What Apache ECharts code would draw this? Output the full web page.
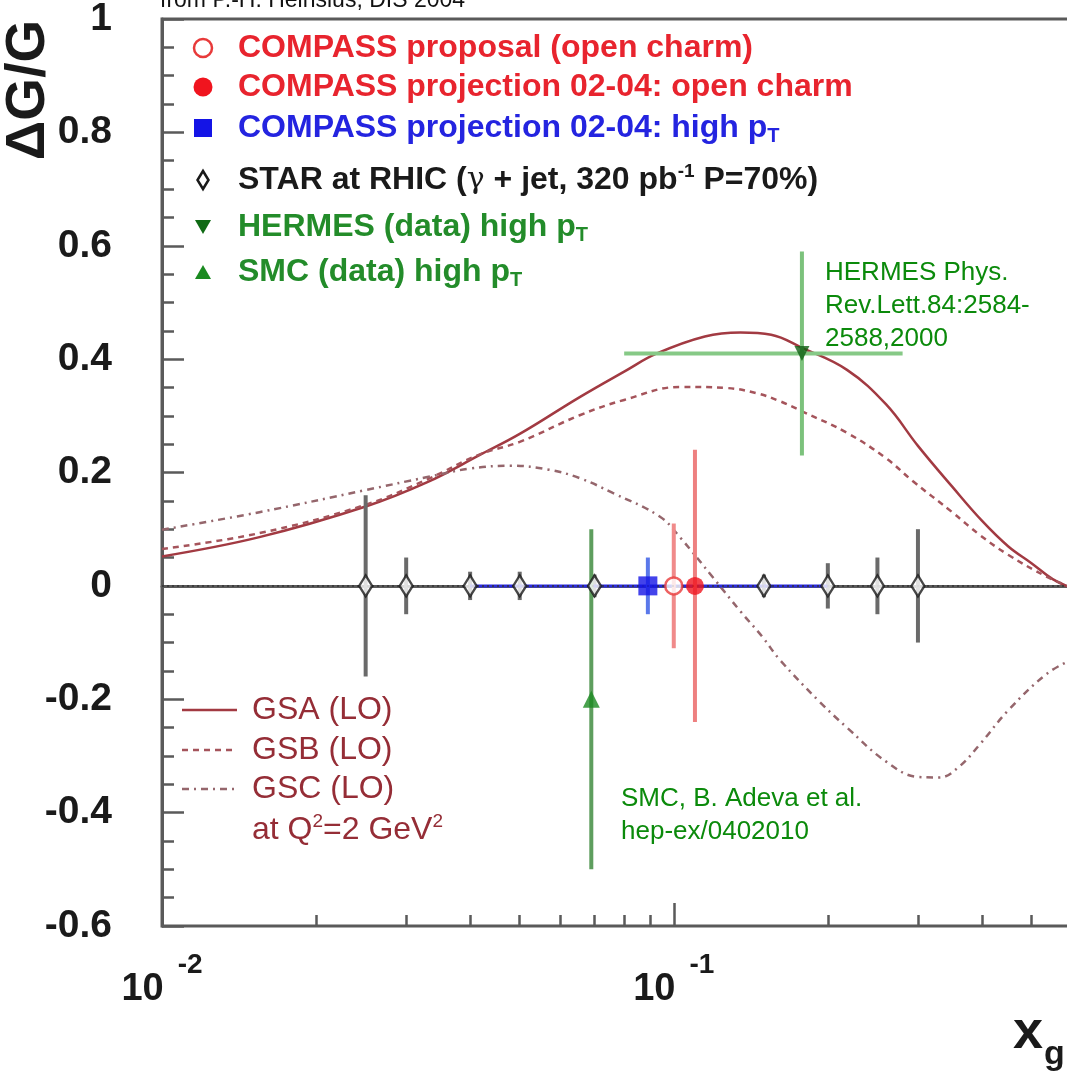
<!DOCTYPE html>
<html lang="en">
  <head>
    <meta charset="utf-8" />
    <title>Delta G / G versus x_g</title>
    <script src="https://cdn.jsdelivr.net/npm/echarts@6/dist/echarts.min.js"></script>
    <style>
      html, body { margin: 0; padding: 0; background: #fff; }
      #chart { width: 1067px; height: 1075px; }
    </style>
  </head>
  <body>
    <div id="chart"></div>
    <script>
      // GS parametrisations (LO, Q^2 = 2 GeV^2)
      var gsaX = [0.01, 0.0155, 0.025, 0.033, 0.0418, 0.05, 0.0655, 0.08, 0.0927, 0.115, 0.135, 0.155, 0.178, 0.218, 0.26, 0.3, 0.35, 0.4, 0.45, 0.5, 0.55, 0.6]
      var gsaY = [0.052, 0.086, 0.14, 0.183, 0.231, 0.268, 0.333, 0.378, 0.41, 0.44, 0.447, 0.443, 0.42, 0.381, 0.32, 0.247, 0.175, 0.115, 0.07, 0.04, 0.012, -0.004]
      var gsbX = [0.01, 0.0155, 0.025, 0.033, 0.0418, 0.05, 0.0655, 0.08, 0.103, 0.127, 0.145, 0.161, 0.178, 0.218, 0.26, 0.293, 0.35, 0.396, 0.45, 0.536, 0.6]
      var gsbY = [0.065, 0.093, 0.143, 0.188, 0.232, 0.254, 0.301, 0.328, 0.351, 0.349, 0.34, 0.326, 0.308, 0.27, 0.225, 0.185, 0.13, 0.09, 0.055, 0.016, -0.003]
      var gscX = [0.01, 0.0155, 0.025, 0.033, 0.04, 0.048, 0.057, 0.0655, 0.076, 0.094, 0.103, 0.119, 0.135, 0.149, 0.161, 0.193, 0.218, 0.26, 0.3, 0.33, 0.36, 0.396, 0.45, 0.536, 0.6]
      var gscY = [0.099, 0.13, 0.169, 0.192, 0.207, 0.212, 0.205, 0.19, 0.164, 0.122, 0.085, 0.016, -0.045, -0.09, -0.13, -0.205, -0.25, -0.31, -0.337, -0.338, -0.32, -0.28, -0.22, -0.155, -0.13]

      // STAR at RHIC projection
      var starX = [0.025, 0.03, 0.04, 0.05, 0.07, 0.15, 0.2, 0.25, 0.3]
      var starY = [0, 0, 0, 0, 0, 0, 0, 0, 0]
      var starErr = [0.16, 0.05, 0.025, 0.025, 0.02, 0.02, 0.04, 0.05, 0.1]

      // single points: [x, y, xLow, xHigh, yErr]
      var compassProposal = [0.1, 0, 0.1, 0.1, 0.11]
      var compassCharm = [0.11, 0, 0.11, 0.11, 0.24]
      var compassHighPt = [0.089, 0, 0.04, 0.2, 0.05]
      var hermes = [0.178, 0.41, 0.08, 0.28, 0.18]
      var smc = [0.069, -0.2, 0.069, 0.069, 0.3]

      var xMajor = [0.01, 0.1]
      var xMinor = [0.02, 0.03, 0.04, 0.05, 0.06, 0.07, 0.08, 0.09, 0.2, 0.3, 0.4, 0.5]

      var FONT = '"Liberation Sans", Arial, Helvetica, sans-serif'
      var AXIS = '#5a5a5a'
      var RED = '#e8242e'
      var BLUE = '#2424e0'
      var GREEN = '#238c2a'
      var CURVE = '#952d36'

      function pairs(xs, ys) {
        return xs.map(function (x, i) { return [x, ys[i]] })
      }

      // rows [x, y, xlo, xhi, ylo, yhi]
      function vRow(p) { return [p[0], p[1], p[0], p[0], p[1] - p[4], p[1] + p[4]] }
      function hRow(p) { return [p[0], p[1], p[2], p[3], p[1], p[1]] }

      function errorBars(name, rows, color, width, z) {
        return {
          type: 'custom',
          name: name,
          z: z,
          silent: true,
          encode: { x: [0, 2, 3], y: [1, 4, 5] },
          data: rows,
          renderItem: function (params, api) {
            var c = api.coord([api.value(0), api.value(1)])
            var lo = api.coord([api.value(2), api.value(4)])
            var hi = api.coord([api.value(3), api.value(5)])
            var kids = []
            if (api.value(4) !== api.value(5)) {
              kids.push({ type: 'line', shape: { x1: c[0], y1: lo[1], x2: c[0], y2: hi[1] }, style: { stroke: color, lineWidth: width } })
            }
            if (api.value(2) !== api.value(3)) {
              kids.push({ type: 'line', shape: { x1: lo[0], y1: c[1], x2: hi[0], y2: c[1] }, style: { stroke: color, lineWidth: width } })
            }
            return { type: 'group', children: kids }
          }
        }
      }

      function marker(name, pts, symbol, size, itemStyle, rotate) {
        return {
          type: 'scatter', name: name, z: 8, silent: true,
          symbol: symbol, symbolSize: size, symbolRotate: rotate || 0,
          itemStyle: itemStyle,
          data: pts
        }
      }

      // extra log axes that only carry tick marks
      function tickAxis(values, len) {
        return {
          type: 'log', logBase: 10, min: 0.01, max: 0.6, position: 'bottom',
          axisLine: { show: false },
          axisTick: { show: true, inside: true, length: len, customValues: values, lineStyle: { color: AXIS, width: 2.5 } },
          axisLabel: { show: false },
          splitLine: { show: false }
        }
      }

      var starRows = starX.map(function (x, i) { return [x, starY[i], x, x, starY[i] - starErr[i], starY[i] + starErr[i]] })

      function legendText(y, text, color, rich) {
        return {
          type: 'text', x: 238, y: y, z: 20,
          style: {
            text: text, fill: color, fontSize: 32, fontWeight: 'bold', fontFamily: FONT,
            lineHeight: 36, verticalAlign: 'middle', align: 'left', rich: rich || {}
          }
        }
      }
      var subT = { t: { fontSize: 20, fontWeight: 'bold', lineHeight: 10, verticalAlign: 'bottom', fontFamily: FONT } }
      var supS = {
        g: { fontSize: 30, fontWeight: 'normal', fontFamily: '"DejaVu Serif", serif', lineHeight: 36 },
        s: { fontSize: 19, fontWeight: 'bold', lineHeight: 6, verticalAlign: 'top', fontFamily: FONT }
      }
      var supQ = { s: { fontSize: 19, lineHeight: 6, verticalAlign: 'top', fontFamily: FONT } }

      var chart = echarts.init(document.getElementById('chart'))
      chart.setOption({
        animation: false,
        backgroundColor: '#fff',
        grid: {
          left: 162, top: 19, width: 910, height: 907, outerBoundsMode: 'none',
          show: true, borderColor: AXIS, borderWidth: 3, backgroundColor: 'transparent'
        },
        xAxis: [
          {
            type: 'log', logBase: 10, min: 0.01, max: 0.6,
            axisLine: { show: true, lineStyle: { color: AXIS, width: 3 } },
            axisTick: { show: false },
            axisLabel: {
              show: true, margin: 25, customValues: xMajor,
              formatter: function (v) { return '{b|10}{s|' + Math.round(Math.log10(v)) + '}' },
              rich: {
                b: { fontSize: 38, fontWeight: 'bold', color: '#1a1a1a', fontFamily: FONT, lineHeight: 58, verticalAlign: 'bottom' },
                s: { fontSize: 28, fontWeight: 'bold', color: '#1a1a1a', fontFamily: FONT, lineHeight: 20, verticalAlign: 'top', padding: [0, 0, 0, 14] }
              }
            },
            splitLine: { show: false }
          },
          tickAxis(xMinor, 11),
          tickAxis(xMajor, 23)
        ],
        yAxis: {
          type: 'value', min: -0.6, max: 1, interval: 0.2,
          axisLine: { show: true, lineStyle: { color: AXIS, width: 3 } },
          axisTick: { show: true, inside: true, length: 22, lineStyle: { color: AXIS, width: 2.5 } },
          minorTick: { show: true, splitNumber: 4, length: 12, lineStyle: { color: AXIS, width: 2.5 } },
          axisLabel: {
            margin: 50, fontSize: 39, fontWeight: 'bold', color: '#1a1a1a', fontFamily: FONT,
            formatter: function (v) { return String(+v.toFixed(1)) }
          },
          splitLine: { show: false }
        },
        series: [
          {
            type: 'line', name: 'GSA (LO)', z: 2, showSymbol: false, smooth: 0.4, silent: true,
            lineStyle: { color: '#a23a42', width: 2.5 },
            data: pairs(gsaX, gsaY),
            markLine: {
              silent: true, symbol: 'none', label: { show: false },
              lineStyle: { color: '#333', width: 1.5, type: [2, 3] },
              data: [{ yAxis: 0 }]
            }
          },
          {
            type: 'line', name: 'GSB (LO)', z: 2, showSymbol: false, smooth: 0.4, silent: true,
            lineStyle: { color: '#a5545b', width: 2.5, type: [6, 5] },
            data: pairs(gsbX, gsbY)
          },
          {
            type: 'line', name: 'GSC (LO)', z: 2, showSymbol: false, smooth: 0.4, silent: true,
            lineStyle: { color: '#95666c', width: 2.5, type: [7, 5, 2, 5] },
            data: pairs(gscX, gscY)
          },
          errorBars('STAR errors', starRows, '#6a6a6a', 4, 4),
          errorBars('high pT x range', [hRow(compassHighPt)], '#2a2ae0', 3, 4),
          errorBars('high pT error', [vRow(compassHighPt)], '#5a78ea', 4, 4),
          errorBars('proposal error', [vRow(compassProposal)], '#f08a8a', 4, 4),
          errorBars('charm error', [vRow(compassCharm)], '#ee8080', 4, 4),
          errorBars('HERMES x range', [hRow(hermes)], '#86c986', 4, 4),
          errorBars('HERMES error', [vRow(hermes)], '#7cc27c', 4, 4),
          errorBars('SMC error', [vRow(smc)], '#5e9e5e', 4, 4),
          marker('STAR at RHIC', pairs(starX, starY), 'diamond', [13, 21], { color: '#fff', borderColor: '#1a1a1a', borderWidth: 2.5 }),
          marker('COMPASS high pT', [compassHighPt.slice(0, 2)], 'rect', 19, { color: '#1414e6' }),
          marker('COMPASS proposal', [compassProposal.slice(0, 2)], 'circle', 17, { color: '#fff', borderColor: '#e83a3a', borderWidth: 2.5 }),
          marker('COMPASS open charm', [compassCharm.slice(0, 2)], 'circle', 18, { color: '#f0141e' }),
          marker('HERMES', [hermes.slice(0, 2)], 'triangle', 15, { color: '#0f5f12' }, 180),
          marker('SMC', [smc.slice(0, 2)], 'triangle', 17, { color: '#1a8a20' })
        ],
        graphic: [
          { type: 'text', x: 160, y: 12, style: { text: 'from P.-H. Heinsius, DIS 2004', fill: '#111', fontSize: 23, fontFamily: FONT, verticalAlign: 'bottom' } },
          { type: 'text', x: 29, y: 90, rotation: Math.PI / 2, style: { text: '\u0394G/G', fill: '#1a1a1a', fontSize: 55, fontWeight: 'bold', fontFamily: FONT, align: 'center', verticalAlign: 'middle' } },
          { type: 'text', x: 1013, y: 1033, style: { text: 'x', fill: '#1a1a1a', fontSize: 54, fontWeight: 'bold', fontFamily: FONT, verticalAlign: 'middle' } },
          { type: 'text', x: 1044, y: 1055, style: { text: 'g', fill: '#1a1a1a', fontSize: 34, fontWeight: 'bold', fontFamily: FONT, verticalAlign: 'middle' } },

          // legend, upper left
          { type: 'circle', z: 20, shape: { cx: 203, cy: 48, r: 9 }, style: { fill: '#fff', stroke: '#e83a3a', lineWidth: 2.5 } },
          { type: 'circle', z: 20, shape: { cx: 203, cy: 87, r: 9.5 }, style: { fill: '#f0141e' } },
          { type: 'rect', z: 20, shape: { x: 194, y: 119, width: 18, height: 18 }, style: { fill: '#1414e6' } },
          { type: 'polygon', z: 20, shape: { points: [[203, 171], [208.5, 180], [203, 189], [197.5, 180]] }, style: { fill: '#fff', stroke: '#1a1a1a', lineWidth: 2.5 } },
          { type: 'polygon', z: 20, shape: { points: [[195, 220], [211, 220], [203, 234]] }, style: { fill: '#0f6a14' } },
          { type: 'polygon', z: 20, shape: { points: [[195, 279], [211, 279], [203, 265]] }, style: { fill: '#1a8a20' } },
          legendText(48, 'COMPASS proposal (open charm)', RED),
          legendText(87, 'COMPASS projection 02-04: open charm', RED),
          legendText(128, 'COMPASS projection 02-04: high p{t|T}', BLUE, subT),
          legendText(180, 'STAR at RHIC ({g|\u03b3} + jet, 320 pb{s|-1} P=70%)', '#1a1a1a', supS),
          legendText(227, 'HERMES (data) high p{t|T}', GREEN, subT),
          legendText(272, 'SMC (data) high p{t|T}', GREEN, subT),

          // legend, lower left
          { type: 'line', z: 20, shape: { x1: 182, y1: 710, x2: 237, y2: 710 }, style: { stroke: '#a23a42', lineWidth: 2.5 } },
          { type: 'line', z: 20, shape: { x1: 182, y1: 750, x2: 237, y2: 750 }, style: { stroke: '#a5545b', lineWidth: 2.5, lineDash: [6, 5] } },
          { type: 'line', z: 20, shape: { x1: 182, y1: 789, x2: 237, y2: 789 }, style: { stroke: '#95666c', lineWidth: 2.5, lineDash: [7, 5, 2, 5] } },
          { type: 'text', x: 252, y: 710, z: 20, style: { text: 'GSA (LO)', fill: CURVE, fontSize: 32, fontFamily: FONT, verticalAlign: 'middle' } },
          { type: 'text', x: 252, y: 750, z: 20, style: { text: 'GSB (LO)', fill: CURVE, fontSize: 32, fontFamily: FONT, verticalAlign: 'middle' } },
          { type: 'text', x: 252, y: 789, z: 20, style: { text: 'GSC (LO)', fill: CURVE, fontSize: 32, fontFamily: FONT, verticalAlign: 'middle' } },
          { type: 'text', x: 252, y: 830, z: 20, style: { text: 'at Q{s|2}=2 GeV{s|2}', fill: CURVE, fontSize: 32, fontFamily: FONT, lineHeight: 36, verticalAlign: 'middle', rich: supQ } },

          // references
          { type: 'text', x: 825, y: 256, z: 20, style: { text: 'HERMES Phys.\nRev.Lett.84:2584-\n2588,2000', fill: '#0b8a0b', fontSize: 26, fontFamily: FONT, lineHeight: 33, verticalAlign: 'top' } },
          { type: 'text', x: 621, y: 782, z: 20, style: { text: 'SMC, B. Adeva et al.\nhep-ex/0402010', fill: '#0b8a0b', fontSize: 26, fontFamily: FONT, lineHeight: 33, verticalAlign: 'top' } }
        ]
      })
    </script>
  </body>
</html>
